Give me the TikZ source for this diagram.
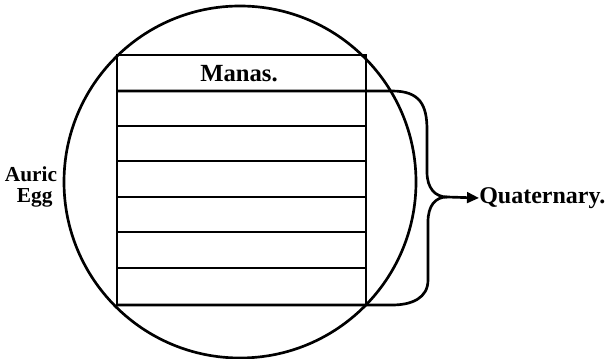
\documentclass[tikz,border=0pt]{standalone}
\usepackage{fontspec}
\setmainfont{Liberation Serif}
\usetikzlibrary{arrows.meta}
\begin{document}
\begin{tikzpicture}[x=0.75pt,y=-0.75pt,
  ink/.style={line width=2pt,black},
  thin/.style={line width=1.7pt,black},
  lbl/.style={font=\bfseries\fontsize{16}{16}\selectfont,inner sep=0pt}]
\useasboundingbox (0,0) rectangle (607,359);
% circle (auric egg)
\draw[ink] (240,182) circle[radius=176];
% rectangle with 7 layers
\draw[ink] (117,55) rectangle (366,305);
\foreach \y in {126,161,197,232,268}
  \draw[thin] (117,\y) -- (366,\y);
% top layer line extended into brace
\coordinate (bs) at (117,91);
\coordinate (be) at (117,305);
\node[lbl,font=\bfseries\fontsize{18.5}{18.5}\selectfont] (manas) at (239,74) {Manas.};
\node[lbl,align=left,font=\bfseries\fontsize{16}{15.5}\selectfont] (auric) at (31,187) {Auric\\\hspace*{9pt}Egg};
\coordinate (tip) at (447,197);
\node[lbl,font=\bfseries\fontsize{18}{18}\selectfont,anchor=west] (quat) at (479,198) {Quaternary.};
% brace
\draw[ink] (bs) -- (392,91) .. controls (420,91) and (427,105) .. (427,130)
  -- (427,172) .. controls (427,188) and (435,197) .. (tip);
\draw[ink] (tip) .. controls (435,197) and (428,206) .. (428,222)
  -- (428,280) .. controls (428,298) and (412,305) .. (392,305) -- (be);
\draw[ink,-{Triangle[length=9pt,width=8pt]}] (tip) -- (quat.west);
\end{tikzpicture}
\end{document}
